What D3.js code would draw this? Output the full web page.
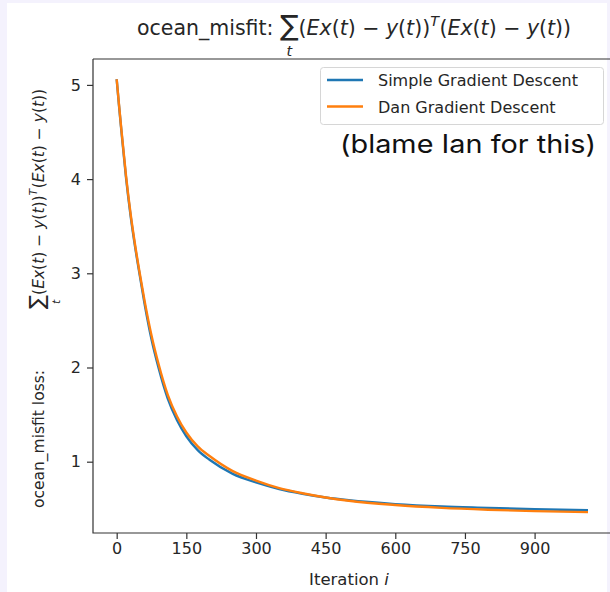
<!DOCTYPE html>
<html><head><meta charset="utf-8">
<script src="https://cdn.jsdelivr.net/npm/d3@7"></script>
<style>
html,body{margin:0;padding:0;background:#f4f2fd;}
svg{display:block;}
</style></head><body>
<svg id="chart" width="610" height="592"></svg>
<script>
// ---- data ----
const iterations = [0,5,10,20,30,40,50,60,75,90,110,130,150,175,200,250,300,350,400,450,500,600,700,800,900,1015];
const simpleLoss = [5.06,4.78,4.52,4.02,3.61,3.27,2.97,2.68,2.30,2.00,1.67,1.44,1.27,1.12,1.02,0.87,0.78,0.71,0.66,0.62,0.59,0.55,0.525,0.51,0.495,0.485];
const danLoss    = [5.06,4.79,4.53,4.04,3.63,3.29,2.99,2.71,2.34,2.04,1.71,1.48,1.31,1.16,1.06,0.90,0.80,0.72,0.665,0.62,0.585,0.54,0.51,0.49,0.475,0.465];
const seriesNames = ["Simple Gradient Descent","Dan Gradient Descent"];
const seriesColors = ["#1f77b4","#ff7f0e"];
const xTicks = [0,150,300,450,600,750,900];
const yTicks = [1,2,3,4,5];
const annotation = "(blame Ian for this)";

const svg = d3.select("#chart");
const FONT = "DejaVu Sans, sans-serif";
const TXT = "#262626";

// white figure area
svg.append("rect").attr("x",7).attr("y",3).attr("width",600).attr("height",589).attr("fill","#ffffff");

const L = 93, R = 614, T = 59, B = 533;
const x = d3.scaleLinear().domain([-51, 1071]).range([L, R]);
const y = d3.scaleLinear().domain([0.243, 5.275]).range([B, T]);

const plot = svg.append("g");
const series = [simpleLoss, danLoss];
const line = d3.line().x((d,i)=>x(iterations[i])).y(d=>y(d)).curve(d3.curveMonotoneX);
series.forEach((s,k)=>{
  plot.append("path").datum(s).attr("d", line).attr("fill","none")
    .attr("stroke", seriesColors[k]).attr("stroke-width",2.4).attr("stroke-linecap","butt");
});

// axes
const xAxis = d3.axisBottom(x).tickValues(xTicks).tickSize(6).tickPadding(4).tickFormat(d3.format("d"));
const gx = svg.append("g").attr("transform",`translate(0,${B})`).call(xAxis);
gx.select(".domain").remove();
const yAxis = d3.axisLeft(y).tickValues(yTicks).tickSize(6).tickPadding(6).tickFormat(d3.format("d"));
const gy = svg.append("g").attr("transform",`translate(${L},0)`).call(yAxis);
gy.select(".domain").remove();
[gx,gy].forEach(g=>{
  g.selectAll("line").attr("stroke","#333").attr("stroke-width",1.2);
  g.selectAll("text").attr("font-family",FONT).attr("font-size",16).attr("fill",TXT);
});
// spines
svg.append("path").attr("d",`M${L},${T}H${R}M${L},${T}V${B}H${R}M${R},${T}V${B}`)
  .attr("fill","none").attr("stroke","#333").attr("stroke-width",1.2);

// math layout helper: one <text> element, tspans placed by measured widths
function mathText(parent, pieces, fs) {
  const tmp = parent.append("text").attr("font-family",FONT);
  const widths = pieces.map(p=>{
    tmp.text(p.t).attr("font-size", fs*(p.s||1)).attr("font-style", p.it ? "italic" : "normal")
      .style("white-space","pre");
    return tmp.node().getComputedTextLength();
  });
  tmp.remove();
  const txt = parent.append("text").attr("font-family",FONT).attr("fill",TXT).style("white-space","pre");
  let cx = 0, lastX = 0, lastW = 0;
  pieces.forEach((p,i)=>{
    const w = widths[i];
    let px;
    if (p.under) { px = lastX + (lastW - w)/2 + (p.dx||0)*fs; }
    else { px = cx; lastX = cx; lastW = w; cx += w + (p.pad||0)*fs; }
    txt.append("tspan").text(p.t).attr("x", px).attr("y", (p.dy||0)*fs)
      .attr("font-size", fs*(p.s||1)).attr("font-style", p.it ? "italic" : "normal");
  });
  return {g: txt, width: cx};
}
const sumExpr = [
  {t:"∑", s:1.35, dy:0.0},
  {t:"t", it:true, s:0.7, dy:1.0, under:true},
  {t:"("},
  {t:"Ex", it:true},
  {t:"("},{t:"t", it:true},{t:") − "},
  {t:"y", it:true},{t:"("},{t:"t", it:true},{t:"))"},
  {t:"T", it:true, s:0.7, dy:-0.45, pad:0.03},
  {t:"("},{t:"Ex", it:true},{t:"("},{t:"t", it:true},{t:") − "},
  {t:"y", it:true},{t:"("},{t:"t", it:true},{t:"))"}
];

// title
const title = mathText(svg, [{t:"ocean_misfit: "}].concat(sumExpr), 20.5);
title.g.attr("transform", `translate(${137},35)`);

// y label
const ylab = svg.append("g").attr("transform","translate(44,0) rotate(-90)");
const yl1 = mathText(ylab, [{t:"ocean_misfit loss:"}], 15.5);
yl1.g.attr("transform", `translate(${-508},0)`);
const yl2 = mathText(ylab, sumExpr, 15.5);
yl2.g.attr("transform", `translate(${-309},0)`);

// x label
const xl = mathText(svg, [{t:"Iteration "},{t:"i", it:true}], 16.5);
xl.g.attr("transform", `translate(${349 - xl.width/2},585)`);

// legend
const lg = svg.append("g");
lg.append("rect").attr("x",320.5).attr("y",67.5).attr("width",283).attr("height",57).attr("rx",3)
  .attr("fill","#fff").attr("fill-opacity",0.85).attr("stroke","#d6d6d6").attr("stroke-width",1);
seriesNames.forEach((n,k)=>{
  const yy = 80 + k*26.5;
  lg.append("line").attr("x1",327).attr("x2",363).attr("y1",yy).attr("y2",yy)
    .attr("stroke",seriesColors[k]).attr("stroke-width",2.4);
  lg.append("text").attr("x",378).attr("y",yy+6).text(n)
    .attr("font-family",FONT).attr("font-size",16).attr("fill",TXT);
});

// annotation
svg.append("text").attr("x",340).attr("y",153).text(annotation)
  .attr("font-family","Inter, Lato, sans-serif").attr("font-size",25).attr("fill","#111")
  .attr("textLength",256).attr("lengthAdjust","spacingAndGlyphs");
</script>
</body></html>
